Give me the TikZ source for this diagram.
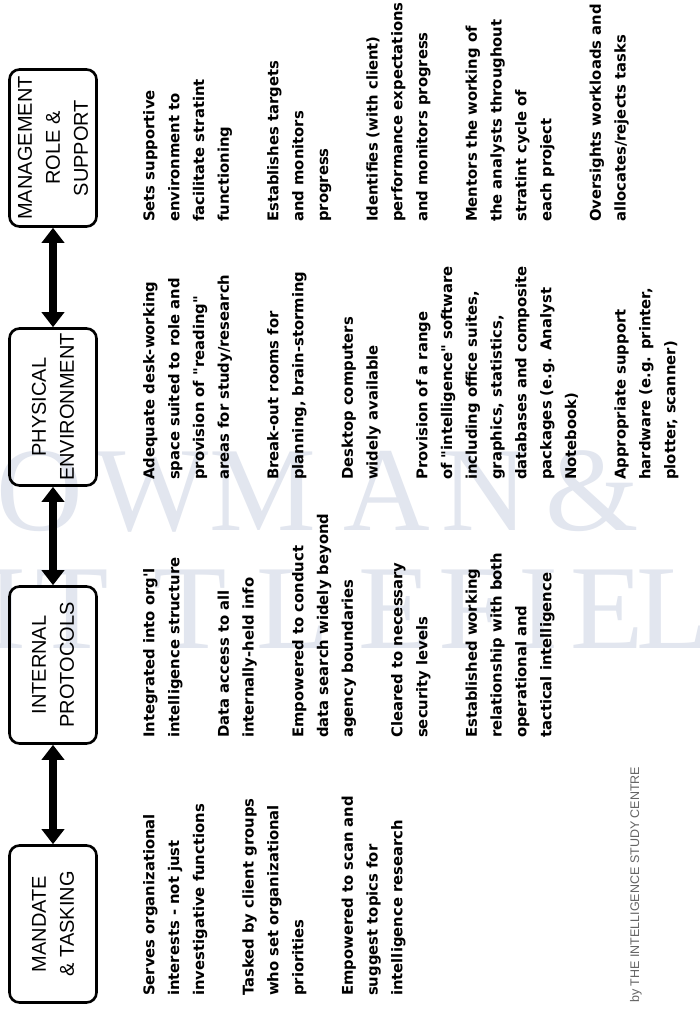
\documentclass[tikz,border=0pt]{standalone}
\usepackage{fontspec}
\setmainfont{Liberation Sans}
\newfontfamily\bodyfont{DejaVu Sans}
\newfontfamily\markfont{Liberation Serif}
\usetikzlibrary{arrows.meta}

\definecolor{markgray}{RGB}{226,230,239}
\definecolor{footgray}{RGB}{100,100,100}

\tikzset{
  stage/.style={draw, line width=2.6pt, rounded corners=10pt, rotate=90,
    minimum width=157pt, minimum height=87pt, inner sep=0pt, align=center,
    font=\fontsize{20}{28}\selectfont},
  link/.style={line width=7.5pt,
    {Triangle[width=22pt,length=15pt]}-{Triangle[width=22pt,length=15pt]}},
  notes/.style={rotate=90, anchor=north west, inner sep=0pt, align=left,
    font=\bodyfont\bfseries\fontsize{14.8}{24.8}\selectfont},
  wmark/.style={anchor=base, inner sep=0pt, text=markgray,
    font=\markfont\fontsize{120}{120}\selectfont},
  credit/.style={rotate=90, anchor=west, inner sep=0pt, text=footgray,
    font=\fontsize{12.5}{14}\selectfont}
}

\begin{document}
\begin{tikzpicture}[x=1pt,y=-1pt]
  \fill[white] (0,0) rectangle (699,1009);
  \path[use as bounding box] (0,0) rectangle (699,1009);

  % publisher imprint behind the content
  \begin{scope}
    \clip (0,0) rectangle (699,1009);
    \foreach \ch/\px in {O/40, W/152, M/263, A/387, N/485, \&/592}
      \node[wmark] (w1\px) at (\px,530) {\ch};
    \foreach \ch/\px in {I/6, T/72, T/190, L/293, E/395, F/472, I/538, E/607, L/673}
      \node[wmark] (w2\px) at (\px,648) {\ch};
  \end{scope}

  % the four stages
  \node[stage] (mgmt) at (53,148) {MANAGEMENT\\ROLE \&\\SUPPORT};
  \node[stage] (phys) at (53,407) {PHYSICAL\\ENVIRONMENT};
  \node[stage] (prot) at (53,665) {INTERNAL\\PROTOCOLS};
  \node[stage] (mand) at (53,924) {MANDATE\\\& TASKING};

  % two-way links between neighbouring stages
  \draw[link] (mgmt.west) -- (phys.east);
  \draw[link] (phys.west) -- (prot.east);
  \draw[link] (prot.west) -- (mand.east);

  % notes for each stage
  \node[notes] (nmgmt) at (143,222) {Sets supportive\\environment to\\facilitate stratint\\functioning\\[24.8pt]%
    Establishes targets\\and monitors\\progress\\[24.8pt]%
    Identifies (with client)\\performance expectations\\and monitors progress\\[24.8pt]%
    Mentors the working of\\the analysts throughout\\stratint cycle of\\each project\\[24.8pt]%
    Oversights workloads and\\allocates/rejects tasks};

  \node[notes] (nphys) at (143,480) {Adequate desk-working\\space suited to role and\\provision of \symbol{34}reading\symbol{34}\\areas for study/research\\[24.8pt]%
    Break-out rooms for\\planning, brain-storming\\[24.8pt]%
    Desktop computers\\widely available\\[24.8pt]%
    Provision of a range\\of \symbol{34}intelligence\symbol{34} software\\including office suites,\\graphics, statistics,\\databases and composite\\packages (e.g. Analyst\\Notebook)\\[24.8pt]%
    Appropriate support\\hardware (e.g. printer,\\plotter, scanner)};

  \node[notes] (nprot) at (143,738) {Integrated into org\symbol{39}l\\intelligence structure\\[24.8pt]%
    Data access to all\\internally-held info\\[24.8pt]%
    Empowered to conduct\\data search widely beyond\\agency boundaries\\[24.8pt]%
    Cleared to necessary\\security levels\\[24.8pt]%
    Established working\\relationship with both\\operational and\\tactical intelligence};

  \node[notes] (nmand) at (143,996) {Serves organizational\\interests - not just\\investigative functions\\[24.8pt]%
    Tasked by client groups\\who set organizational\\priorities\\[24.8pt]%
    Empowered to scan and\\suggest topics for\\intelligence research};

  \node[credit] (credit) at (636,1003) {by THE INTELLIGENCE STUDY CENTRE};
\end{tikzpicture}
\end{document}
